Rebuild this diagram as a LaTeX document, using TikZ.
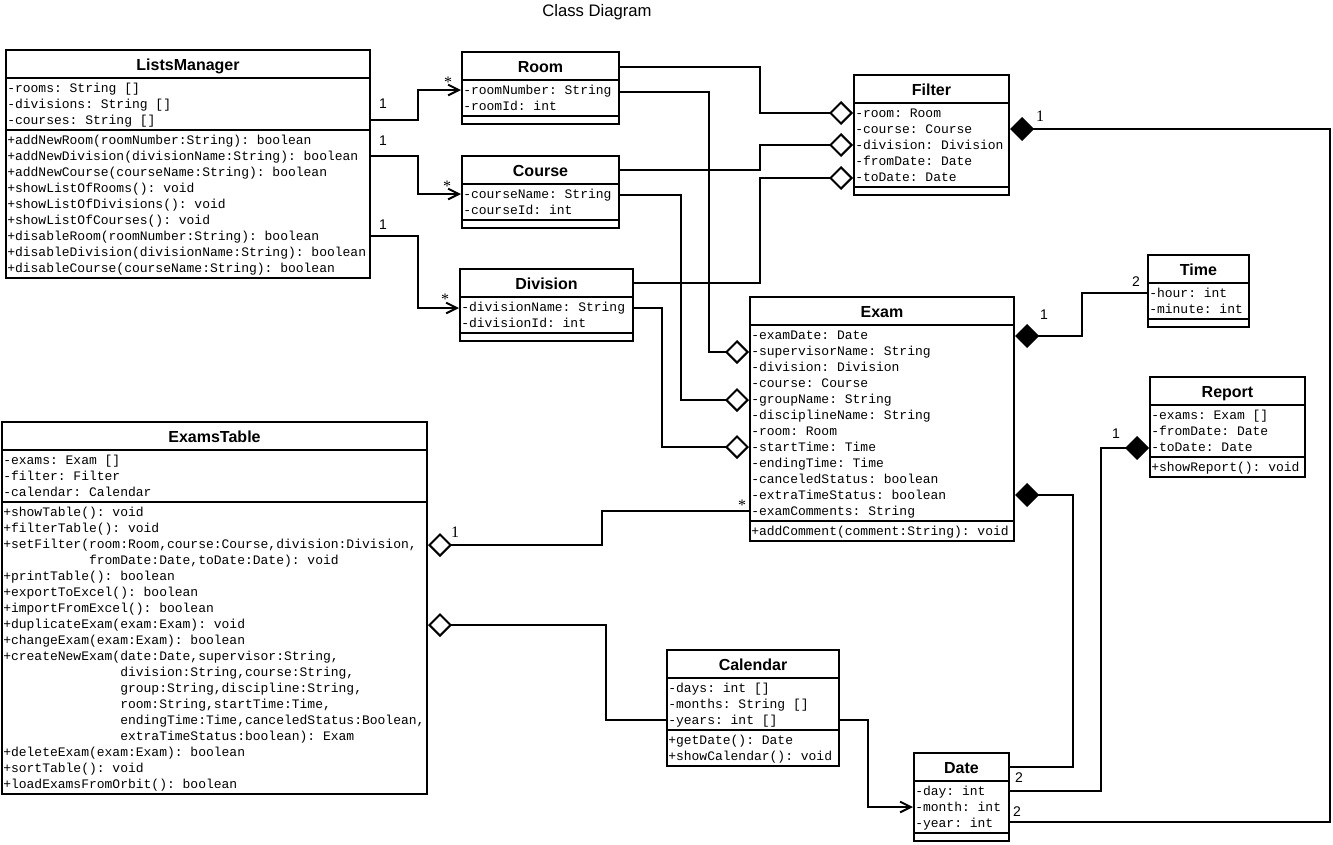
\documentclass[tikz,border=0pt]{standalone}
\usepackage{fontspec}
\setmainfont{Liberation Sans}
\setmonofont{Liberation Mono}
\newfontfamily\serifmult{Liberation Serif}
\usetikzlibrary{arrows.meta,fit}

% A UML class box: name, left x, top y, right x, #attributes, #operations,
% title, attribute lines, operation lines (all in pixel units)
\newcommand{\umlclass}[9]{%
  \pgfmathsetmacro\clsYa{#3+28}%
  \pgfmathsetmacro\clsYb{\clsYa+16*#5+4}%
  \pgfmathsetmacro\clsYc{#6>0 ? \clsYb+16*#6+4 : \clsYb+8}%
  \pgfmathsetmacro\clsXm{(#2+#4)/2}%
  \node[cls, fit={(#2,#3) (#4,\clsYc)}] (#1) {};
  \draw[sepline] (#2,\clsYa) -- (#4,\clsYa) (#2,\clsYb) -- (#4,\clsYb);
  \node[ttl] (#1-title) at (\clsXm,#3+20) {#7};
  \node[mem] (#1-attr) at (#2+1,\clsYa+3) {\strut#8};
  \ifnum#6>0 \node[mem] (#1-ops) at (#2+1,\clsYb+3) {\strut#9};\fi
}

\begin{document}
\begin{tikzpicture}[x=0.75pt,y=-0.75pt,
  cls/.style={draw,line width=1.5pt,inner sep=0pt},
  sepline/.style={line width=1.5pt},
  ttl/.style={font=\bfseries\fontsize{12}{14}\selectfont,anchor=base,inner sep=0pt},
  mem/.style={font=\ttfamily\fontsize{9.75}{12}\selectfont,align=left,anchor=north west,inner sep=0pt},
  mult/.style={font=\fontsize{10.5}{12}\selectfont,inner sep=0pt},
  smult/.style={font=\serifmult\fontsize{12}{14}\selectfont,inner sep=0pt},
  link/.style={line width=1.5pt},
  nav/.style={link,-{Straight Barb[length=8pt,width=8pt]}},
  agg/.style={link,{Diamond[open,length=18pt,width=18pt]}-},
  comp/.style={link,{Diamond[length=18pt,width=18pt]}-}]

\useasboundingbox (0,0) rectangle (1333,844);

\node[font=\fontsize{12.5}{14}\selectfont] (diagtitle) at (597,12) {Class Diagram};

% ---- classes ----
\umlclass{LM}{6}{50}{370}{3}{9}{ListsManager}
  {-rooms: String []\\-divisions: String []\\-courses: String []}
  {+addNewRoom(roomNumber:String): boolean\\
   +addNewDivision(divisionName:String): boolean\\
   +addNewCourse(courseName:String): boolean\\
   +showListOfRooms(): void\\
   +showListOfDivisions(): void\\
   +showListOfCourses(): void\\
   +disableRoom(roomNumber:String): boolean\\
   +disableDivision(divisionName:String): boolean\\
   +disableCourse(courseName:String): boolean}

\umlclass{Room}{462}{52}{619}{2}{0}{Room}
  {-roomNumber: String\\-roomId: int}{}

\umlclass{Course}{462}{156}{619}{2}{0}{Course}
  {-courseName: String\\-courseId: int}{}

\umlclass{Division}{460}{269}{633}{2}{0}{Division}
  {-divisionName: String\\-divisionId: int}{}

\umlclass{Filter}{854}{75}{1009}{5}{0}{Filter}
  {-room: Room\\-course: Course\\-division: Division\\-fromDate: Date\\-toDate: Date}{}

\umlclass{Exam}{750}{297}{1014}{12}{1}{Exam}
  {-examDate: Date\\-supervisorName: String\\-division: Division\\-course: Course\\
   -groupName: String\\-disciplineName: String\\-room: Room\\-startTime: Time\\
   -endingTime: Time\\-canceledStatus: boolean\\-extraTimeStatus: boolean\\
   -examComments: String}
  {+addComment(comment:String): void}

\umlclass{Time}{1148}{255}{1249}{2}{0}{Time}
  {-hour: int\\-minute: int}{}

\umlclass{Report}{1150}{377}{1305}{3}{1}{Report}
  {-exams: Exam []\\-fromDate: Date\\-toDate: Date}
  {+showReport(): void}

\umlclass{ExamsTable}{2}{422}{427}{3}{18}{ExamsTable}
  {-exams: Exam []\\-filter: Filter\\-calendar: Calendar}
  {+showTable(): void\\
   +filterTable(): void\\
   +setFilter(room:Room,course:Course,division:Division,\\
   \phantom{+setFilter(}fromDate:Date,toDate:Date): void\\
   +printTable(): boolean\\
   +exportToExcel(): boolean\\
   +importFromExcel(): boolean\\
   +duplicateExam(exam:Exam): void\\
   +changeExam(exam:Exam): boolean\\
   +createNewExam(date:Date,supervisor:String,\\
   \phantom{+createNewExam(}division:String,course:String,\\
   \phantom{+createNewExam(}group:String,discipline:String,\\
   \phantom{+createNewExam(}room:String,startTime:Time,\\
   \phantom{+createNewExam(}endingTime:Time,canceledStatus:Boolean,\\
   \phantom{+createNewExam(}extraTimeStatus:boolean): Exam\\
   +deleteExam(exam:Exam): boolean\\
   +sortTable(): void\\
   +loadExamsFromOrbit(): boolean}

\umlclass{Calendar}{667}{650}{839}{3}{2}{Calendar}
  {-days: int []\\-months: String []\\-years: int []}
  {+getDate(): Date\\+showCalendar(): void}

\umlclass{Date}{914}{753}{1009}{3}{0}{Date}
  {-day: int\\-month: int\\-year: int}{}

% ---- ListsManager navigations ----
\draw[nav] (LM.east |- 0,120) -- (418,120) |- (Room.west |- 0,90);
\draw[nav] (LM.east |- 0,156) -- (418,156) |- (Course.west |- 0,194);
\draw[nav] (LM.east |- 0,236) -- (418,236) |- (Division.west |- 0,308);
\node[mult]  (mLMr) at (383,104) {1};
\node[smult] (mRm)  at (448,82)  {*};
\node[mult]  (mLMc) at (383,141) {1};
\node[smult] (mCo)  at (447,186) {*};
\node[mult]  (mLMd) at (383,225) {1};
\node[smult] (mDv)  at (445,299) {*};

% ---- Filter aggregations ----
\draw[agg] (Filter.west |- 0,113) -- (760,113) |- (Room.east |- 0,67);
\draw[agg] (Filter.west |- 0,145) -- (760,145) |- (Course.east |- 0,170);
\draw[agg] (Filter.west |- 0,178) -- (760,178) |- (Division.east |- 0,283);

% ---- Exam aggregations ----
\draw[agg] (Exam.west |- 0,352) -- (709,352) |- (Room.east |- 0,92);
\draw[agg] (Exam.west |- 0,400) -- (681,400) |- (Course.east |- 0,195);
\draw[agg] (Exam.west |- 0,447) -- (662,447) |- (Division.east |- 0,308);

% ---- compositions ----
\draw[comp] (Exam.east |- 0,336) -- (1082,336) |- (Time.west |- 0,293);
\node[mult] (mExT) at (1044,315) {1};
\node[mult] (mTi)  at (1136,282) {2};

\draw[comp] (Exam.east |- 0,495) -- (1073,495) |- (Date.east |- 0,767);
\node[mult] (mDa1) at (1019,778) {2};

\draw[comp] (Report.west |- 0,448) -- (1101,448) |- (Date.east |- 0,791);
\node[mult] (mRe) at (1116,434) {1};

\draw[comp] (Filter.east |- 0,129) -- (1330,129) |- (Date.east |- 0,822);
\node[smult] (mFi)  at (1040,116) {1};
\node[mult]  (mDa2) at (1017,812) {2};

% ---- ExamsTable aggregations ----
\draw[agg] (ExamsTable.east |- 0,545) -- (602,545) |- (Exam.west |- 0,511);
\node[smult] (mET) at (455,532) {1};
\node[smult] (mEx) at (742,505) {*};

\draw[agg] (ExamsTable.east |- 0,625) -- (606,625) |- (Calendar.west |- 0,720);

% ---- Calendar to Date ----
\draw[nav] (Calendar.east |- 0,720) -- (868,720) |- (Date.west |- 0,807);

\end{tikzpicture}
\end{document}
